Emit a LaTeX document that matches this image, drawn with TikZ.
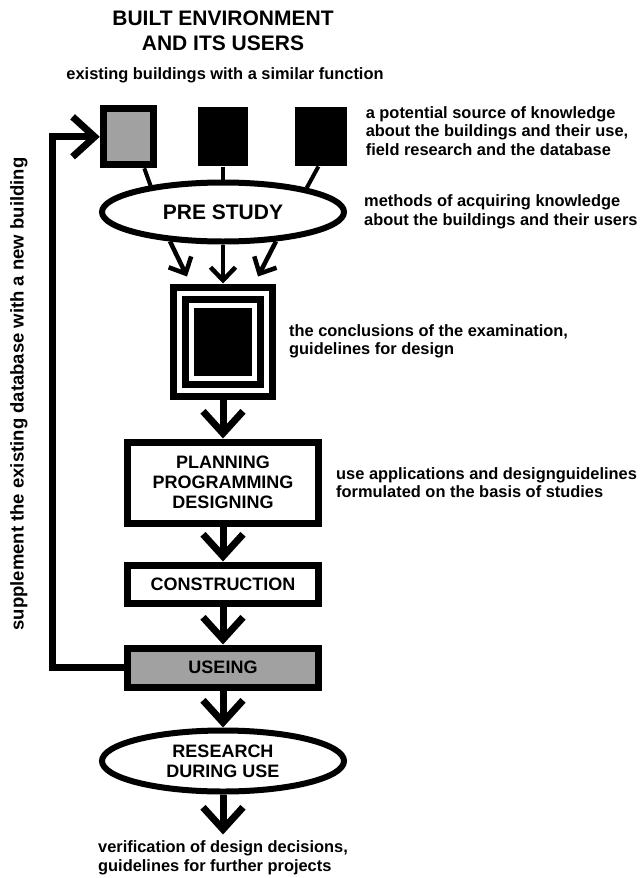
\documentclass[tikz,border=0pt]{standalone}
\usepackage{fontspec}
\setmainfont{Liberation Sans}
\usetikzlibrary{positioning, shapes.geometric, arrows.meta}

\begin{document}
\begin{tikzpicture}[
    x=1pt, y=1pt,
    node distance=39pt,
    heading/.style={font=\fontsize{21}{25}\selectfont\bfseries, align=center, inner sep=0pt},
    note/.style={font=\fontsize{16.4}{18.5}\selectfont\bfseries, align=left, inner sep=0pt},
    sidenote/.style={font=\fontsize{18.5}{20}\selectfont\bfseries, inner sep=0pt, rotate=90},
    source/.style={rectangle, draw, line width=7pt, fill=black!37, minimum width=50pt, minimum height=56pt, inner sep=0pt},
    building/.style={rectangle, fill=black, minimum width=50pt, minimum height=59pt, inner sep=0pt},
    oval/.style={ellipse, draw, line width=6pt, fill=white, minimum width=242pt, align=center, inner sep=0pt, font=\fontsize{18}{20}\selectfont\bfseries},
    stage/.style={rectangle, draw, line width=7pt, fill=white, minimum width=191pt, align=center, inner sep=0pt, font=\fontsize{18}{20}\selectfont\bfseries},
    nested/.style={rectangle, draw, line width=7pt, double, double distance=5pt, outer sep=9.5pt, minimum width=87pt, minimum height=97pt, inner sep=0pt},
    core/.style={rectangle, fill=black, minimum width=58pt, minimum height=68pt, inner sep=0pt},
    link/.style={line width=4pt},
    flow/.style={line width=7pt, -{Straight Barb[length=22pt, width=40pt]}},
    split/.style={line width=4.5pt, -{Straight Barb[length=13pt, width=25pt]}}
]
    \useasboundingbox (0,0) rectangle (641,-878);
    \node[heading] (title) at (223,-30.5) {BUILT ENVIRONMENT\\AND ITS USERS};
    \node[note] (similar) at (225,-75) {existing buildings with a similar function};

    \node[oval, minimum height=59pt, font=\fontsize{21}{24}\selectfont\bfseries] (prestudy) at (223,-212) {PRE STUDY};
    \node[building, above=13pt of prestudy] (bldB) {};
    \node[source, left=41pt of bldB] (bldA) {};
    \node[building, right=47pt of bldB, minimum width=52pt] (bldC) {};

    \node[nested, below=of prestudy] (concl) {};
    \node[core] (conclcore) at (concl) {};
    \node[stage, minimum height=81pt, below=of concl] (plan) {PLANNING\\PROGRAMMING\\DESIGNING};
    \node[stage, minimum height=38pt, below=35pt of plan] (constr) {CONSTRUCTION};
    \node[stage, minimum height=39pt, fill=black!37, below=38pt of constr] (useing) {USEING};
    \node[oval, minimum height=61pt, below=37pt of useing] (research) {RESEARCH\\DURING USE};
    \node[note, below=46pt of research] (verif) {verification of design decisions,\\guidelines for further projects};

    \node[note, right=18pt of bldC, yshift=6pt] (sourcetext) {a potential source of knowledge\\about the buildings and their use,\\field research and the database};
    \node[note, right=17pt of prestudy] (methods) {methods of acquiring knowledge\\about the buildings and their users};
    \node[note, right=13pt of concl] (findings) {the conclusions of the examination,\\guidelines for design};
    \node[note, right=14pt of plan] (guides) {use applications and designguidelines\\formulated on the basis of studies};

    \node[sidenote] (supplement) at (19,-394) {supplement the existing database with a new building};
    \coordinate (loop) at (52,0);

    \draw[link] ([xshift=16pt]bldA.south) -- (prestudy.160);
    \draw[link] (bldB) -- (prestudy);
    \draw[link] ([xshift=-3pt]bldC.south) -- (prestudy.16);
    \draw[split] (prestudy.209) -- ([shift={(-36pt,7pt)}]concl.north);
    \draw[split] (prestudy) -- (concl);
    \draw[split] (prestudy.331) -- ([shift={(35pt,7pt)}]concl.north);

    \draw[flow] (concl) -- (plan);
    \draw[flow] (plan) -- (constr);
    \draw[flow] (constr) -- (useing);
    \draw[flow] (useing) -- (research);
    \draw[flow, shorten >=6pt] (research) -- (verif);
    \draw[flow] ([xshift=3pt]useing.west) -- (useing.west -| loop) |- (bldA.west);
\end{tikzpicture}
\end{document}
